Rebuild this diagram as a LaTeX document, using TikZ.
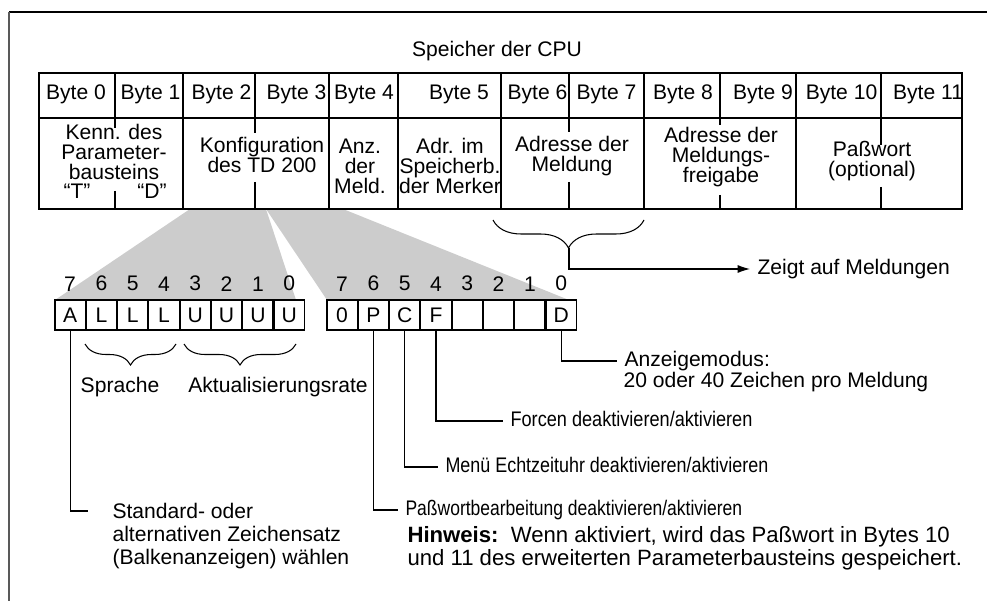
\documentclass[tikz,border=0pt]{standalone}
\usepackage{fontspec}
\setmainfont{Liberation Sans}
\usetikzlibrary{positioning,calc,arrows.meta,decorations.pathreplacing}
\definecolor{fangray}{gray}{0.8}

\begin{document}
\begin{tikzpicture}[
    x=0.02cm, y=-0.02cm,
    font=\fontsize{12pt}{11.65pt}\selectfont,
    line width=0.6pt,
    bit/.style={rectangle, draw, minimum width=0.605cm, minimum height=0.6cm, inner sep=0pt},
    num/.style={inner sep=0pt},
    cell/.style={align=center, inner sep=0pt, anchor=base},
    lbl/.style={anchor=west, inner xsep=4pt, inner ysep=0pt, text height=6.8pt, text depth=0pt},
    txt/.style={align=left, inner sep=0pt, anchor=base west},
    arrow/.style={-{Latex[length=7pt,width=4.5pt]}},
    brace/.style={decorate, decoration={brace, mirror, amplitude=#1}},
    fan/.style={fill=fangray, draw=none}
]
    \useasboundingbox (0,0) rectangle (987,601);

    % frame
    \draw[line width=0.8pt] (987,12) -- (9,12);
    \draw[gray!70!black, line width=1pt] (9,12) -- (9,601);

    % grey fans from bytes 2/3 to the bit fields
    \fill[fan] (190,209) -- (266,209) -- (296,300) -- (55,300) -- cycle;
    \fill[fan] (266,209) -- (343,209) -- (569,300) -- (327,300) -- cycle;

    % memory table
    \draw (39,73) rectangle (962,209);
    \draw (39,118) -- (962,118);
    \draw (183,73) -- (183,209) (329,73) -- (329,209) (398,73) -- (398,209)
          (501,73) -- (501,209) (644,73) -- (644,209) (796,73) -- (796,209);
    \draw (115,73) -- (115,128) (115,191) -- (115,209)
          (255,73) -- (255,133) (255,182) -- (255,209)
          (569,73) -- (569,132) (569,182) -- (569,209)
          (720,73) -- (720,125) (720,195) -- (720,209)
          (881,73) -- (881,145) (881,187) -- (881,209);

    \node[cell] (title) at (497,57) {Speicher der CPU};

    \node[cell] (byte0) at (76,100) {Byte 0};
    \node[cell] (byte1) at (150.5,100) {Byte 1};
    \node[cell] (byte2) at (221.5,100) {Byte 2};
    \node[cell] (byte3) at (296.5,100) {Byte 3};
    \node[cell] (byte4) at (364,100) {Byte 4};
    \node[cell] (byte5) at (459,100) {Byte 5};
    \node[cell] (byte6) at (537.5,100) {Byte 6};
    \node[cell] (byte7) at (606.5,100) {Byte 7};
    \node[cell] (byte8) at (683,100) {Byte 8};
    \node[cell] (byte9) at (763,100) {Byte 9};
    \node[cell] (byte10) at (841.5,100) {Byte 10};
    \node[cell] (byte11) at (928,100) {Byte 11};

    % (base of a multi-line node = its last line)
    \node[cell] (kenn) at (114,180) {Kenn. des\\Parameter-\\bausteins};
    \node[cell] (kennt) at (77,199) {``T''};
    \node[cell] (kennd) at (152,199) {``D''};
    \node[cell] (konfig) at (262,173) {Konfiguration\\des TD 200};
    \node[cell] (anzahl) at (360,194) {Anz.\\der\\Meld.};
    \node[cell] (merker) at (450,194) {Adr. im\\Speicherb.\\der Merker};
    \node[cell] (meldung) at (572,172) {Adresse der\\Meldung};
    \node[cell] (freigabe) at (721,183) {Adresse der\\Meldungs-\\freigabe};
    \node[cell] (passwort) at (872,177) {Paßwort\\(optional)};

    % pointer to the messages
    \draw[brace=0.56cm] (493,220) -- (644,220);
    \coordinate (ptr) at (569,248);
    \node[lbl] (zeigt) at (750,269) {Zeigt auf Meldungen};
    \draw[arrow] (ptr) |- (zeigt.west);

    % bit field of byte 2
    \node[bit] (a7) at (70.1,315) {A};
    \node[bit, right=0pt of a7] (a6) {L};
    \node[bit, right=0pt of a6] (a5) {L};
    \node[bit, right=0pt of a5] (a4) {L};
    \node[bit, right=0pt of a4] (a3) {U};
    \node[bit, right=0pt of a3] (a2) {U};
    \node[bit, right=0pt of a2] (a1) {U};
    \node[bit, right=0pt of a1] (a0) {U};

    % bit field of byte 3
    \node[bit] (b7) at (342.1,315) {0};
    \node[bit, right=0pt of b7] (b6) {P};
    \node[bit, right=0pt of b6] (b5) {C};
    \node[bit, right=0pt of b5] (b4) {F};
    \node[bit, right=0pt of b4] (b3) {};
    \node[bit, right=0pt of b3] (b2) {};
    \node[bit, right=0pt of b2] (b1) {};
    \node[bit, right=0pt of b1] (b0) {D};

    \node[num, above=4.5pt of a7] (na7) {7}; \node[num, above=4.5pt of a6] (na6) {6};
    \node[num, above=4.5pt of a5] (na5) {5}; \node[num, above=4.5pt of a4] (na4) {4};
    \node[num, above=4.5pt of a3] (na3) {3}; \node[num, above=4.5pt of a2] (na2) {2};
    \node[num, above=4.5pt of a1] (na1) {1}; \node[num, above=4.5pt of a0] (na0) {0};
    \node[num, above=4.5pt of b7] (nb7) {7}; \node[num, above=4.5pt of b6] (nb6) {6};
    \node[num, above=4.5pt of b5] (nb5) {5}; \node[num, above=4.5pt of b4] (nb4) {4};
    \node[num, above=4.5pt of b3] (nb3) {3}; \node[num, above=4.5pt of b2] (nb2) {2};
    \node[num, above=4.5pt of b1] (nb1) {1}; \node[num, above=4.5pt of b0] (nb0) {0};

    \draw[brace=0.42cm] (85,344) -- (176,344);
    \draw[brace=0.42cm] (184,344) -- (296,344);
    \node[cell] (sprache) at (120,392) {Sprache};
    \node[cell] (rate) at (278,392) {Aktualisierungsrate};

    % leader lines
    \coordinate (stdend) at (88,511);
    \draw (a7.south) |- (stdend);
    \node[txt, font=\fontsize{12pt}{13pt}\selectfont] (standard) at (112,564)
        {Standard- oder\\alternativen Zeichensatz\\(Balkenanzeigen) wählen};

    \node[lbl] (pwedit) at (398,510) {\scalebox{0.83}[1]{Paßwortbearbeitung deaktivieren/aktivieren}};
    \draw (b6.south) |- (pwedit.west);
    \node[txt, font=\fontsize{12.6pt}{11.4pt}\selectfont] (hinweis) at (407,565)
        {\textbf{Hinweis:}\ \ Wenn aktiviert, wird das Paßwort in Bytes 10\\und 11 des erweiterten Parameterbausteins gespeichert.};

    \node[lbl] (rtc) at (438,467) {\scalebox{0.85}[1]{Menü Echtzeituhr deaktivieren/aktivieren}};
    \draw (b5.south) |- (rtc.west);

    \node[lbl] (forcen) at (503,421) {\scalebox{0.86}[1]{Forcen deaktivieren/aktivieren}};
    \draw (b4.south) |- (forcen.west);

    \node[lbl] (modus) at (617,361) {Anzeigemodus:};
    \node[txt] (zeichen) at (623,387) {20 oder 40 Zeichen pro Meldung};
    \draw (b0.south) |- (modus.west);
\end{tikzpicture}
\end{document}
